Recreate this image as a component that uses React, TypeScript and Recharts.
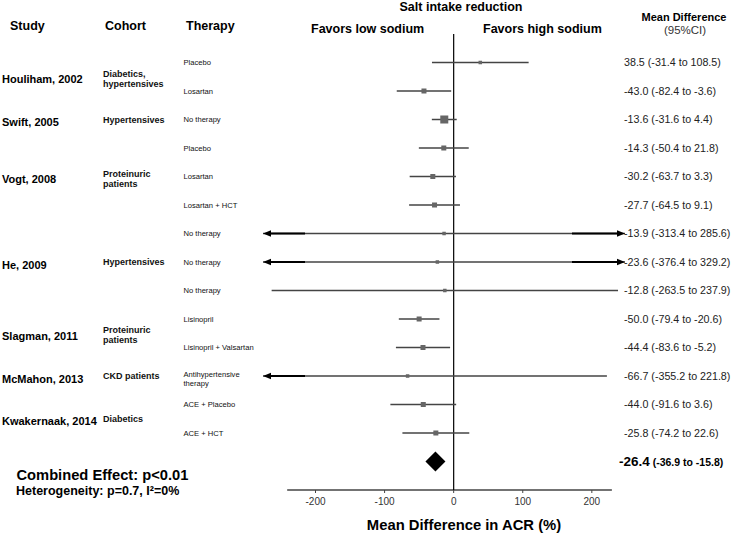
import { ScatterChart, Scatter, XAxis, YAxis, ReferenceLine, Customized } from "recharts";

const FONT = "'Liberation Sans', Arial, sans-serif";

const studies = ["Houliham, 2002", "Swift, 2005", "Vogt, 2008", "He, 2009", "Slagman, 2011", "McMahon, 2013", "Kwakernaak, 2014"];
const cohorts = [["Diabetics,", "hypertensives"], ["Hypertensives"], ["Proteinuric", "patients"], ["Hypertensives"], ["Proteinuric", "patients"], ["CKD patients"], ["Diabetics"]];
const studyRows = [[1, 2], [3], [4, 5, 6], [7, 8, 9], [10, 11], [12], [13, 14]];

const therapies = [
  ["Placebo"], ["Losartan"], ["No therapy"], ["Placebo"], ["Losartan"], ["Losartan + HCT"],
  ["No therapy"], ["No therapy"], ["No therapy"], ["Lisinopril"], ["Lisinopril + Valsartan"],
  ["Antihypertensive", "therapy"], ["ACE + Placebo"], ["ACE + HCT"],
];
const meanDiff = [38.5, -43.0, -13.6, -14.3, -30.2, -27.7, -13.9, -23.6, -12.8, -50.0, -44.4, -66.7, -44.0, -25.8];
const ciLow = [-31.4, -82.4, -31.6, -50.4, -63.7, -64.5, -313.4, -376.4, -263.5, -79.4, -83.6, -355.2, -91.6, -74.2];
const ciHigh = [108.5, -3.6, 4.4, 21.8, 3.3, 9.1, 285.6, 329.2, 237.9, -20.6, -5.2, 221.8, 3.6, 22.6];
const weights = [1, 2, 4, 2, 2, 2, 1, 1, 1, 2, 2, 1, 2, 2];

const combinedEffect = [-26.4, -36.9, -15.8];
const xTicks = [-200, -100, 0, 100, 200];

const X_MIN = -276;
const X_MAX = 248;
const COMBINED_ROW = therapies.length + 1;

const rowPoints = meanDiff.map((v, i) => ({ x: v, y: i + 1, w: weights[i] }));
const combinedPoint = [{ x: combinedEffect[0], y: COMBINED_ROW }];
const studyPos = studyRows.map((r) => r.reduce((a, b) => a + b, 0) / r.length);

const fmt = (v: number) => v.toFixed(1);

const ciShape = (leftArrow: boolean, rightArrow: boolean) => (p: any) => {
  const { x1, x2, y1 } = p;
  return (
    <g>
      <line x1={x1} x2={x2} y1={y1} y2={y1} stroke="#444" strokeWidth={1.5} />
      {leftArrow && (
        <g>
          <line x1={x1 + 6} x2={x1 + 42} y1={y1} y2={y1} stroke="#000" strokeWidth={2.2} />
          <polygon points={`${x1},${y1} ${x1 + 8},${y1 - 3.2} ${x1 + 8},${y1 + 3.2}`} fill="#000" />
        </g>
      )}
      {rightArrow && (
        <g>
          <line x1={x2 - 53} x2={x2 - 6} y1={y1} y2={y1} stroke="#000" strokeWidth={2.2} />
          <polygon points={`${x2},${y1} ${x2 - 8},${y1 - 3.2} ${x2 - 8},${y1 + 3.2}`} fill="#000" />
        </g>
      )}
    </g>
  );
};

const Square = (p: any) => {
  const s = 2 + 1.5 * p.payload.w;
  return <rect x={p.cx - s / 2} y={p.cy - s / 2} width={s} height={s} fill="#666" />;
};

const Diamond = (p: any) => (
  <polygon
    points={`${p.cx},${p.cy - 10} ${p.cx + 10},${p.cy} ${p.cx},${p.cy + 10} ${p.cx - 10},${p.cy}`}
    fill="#000"
  />
);

const RowTick = (p: any) => {
  const { y, payload } = p;
  const i = payload.value - 1;
  if (payload.value === COMBINED_ROW) {
    return (
      <text x={619} y={y + 4.5} fontFamily={FONT} fontWeight="bold" fill="#000">
        <tspan fontSize={13.5}>{fmt(combinedEffect[0])}</tspan>
        <tspan fontSize={10.5}>{` (${fmt(combinedEffect[1])} to ${fmt(combinedEffect[2])})`}</tspan>
      </text>
    );
  }
  const lines = therapies[i];
  const off = lines.length > 1 ? -2 : 0;
  return (
    <g>
      {lines.map((t, k) => (
        <text key={k} x={183.5} y={y + off + k * 9 + 2.8} fontFamily={FONT} fontSize={7.6} fill="#111">
          {t}
        </text>
      ))}
      <text x={624} y={y + 3.8} fontFamily={FONT} fontSize={10.7} fill="#222">
        {`${fmt(meanDiff[i])} (${fmt(ciLow[i])}  to ${fmt(ciHigh[i])})`}
      </text>
    </g>
  );
};

const StudyTick = (p: any) => {
  const { y, payload } = p;
  const i = studyPos.indexOf(payload.value);
  if (i < 0) return <g />;
  const c = cohorts[i];
  const cy0 = c.length > 1 ? y - 3 : y;
  return (
    <g>
      <text x={2} y={y + 2.5 + 4} fontFamily={FONT} fontSize={11} fontWeight="bold" fill="#000">
        {studies[i]}
      </text>
      {c.map((t, k) => (
        <text key={k} x={103} y={cy0 + k * 10 + 3.2} fontFamily={FONT} fontSize={9} fontWeight="bold" fill="#111">
          {t}
        </text>
      ))}
    </g>
  );
};

const Labels = () => (
  <g fontFamily={FONT} fill="#000">
    <text x={461} y={11} fontSize={12.5} fontWeight="bold" textAnchor="middle">Salt intake reduction</text>
    <text x={311} y={32.8} fontSize={12.5} fontWeight="bold">Favors low sodium</text>
    <text x={483} y={32.8} fontSize={12.5} fontWeight="bold">Favors high sodium</text>
    <text x={10} y={29.5} fontSize={12.5} fontWeight="bold">Study</text>
    <text x={105} y={29.5} fontSize={12.5} fontWeight="bold">Cohort</text>
    <text x={186} y={29.5} fontSize={12.5} fontWeight="bold">Therapy</text>
    <text x={684} y={20.6} fontSize={11} fontWeight="bold" textAnchor="middle">Mean Difference</text>
    <text x={685} y={34} fontSize={11.5} textAnchor="middle" fill="#333">(95%CI)</text>
    <text x={16.5} y={480} fontSize={14.7} fontWeight="bold">Combined Effect: p&lt;0.01</text>
    <text x={16} y={494.5} fontSize={12.5} fontWeight="bold">Heterogeneity: p=0.7, I²=0%</text>
    <text x={464} y={530} fontSize={14.8} fontWeight="bold" textAnchor="middle">Mean Difference in ACR (%)</text>
  </g>
);

export default function App() {
  return (
    <div style={{ position: "absolute", left: 0, top: 0 }}>
      <ScatterChart width={735} height={534} margin={{ top: 34, right: 110, bottom: 0, left: 261 }}>
        <XAxis
          dataKey="x"
          type="number"
          domain={[X_MIN, X_MAX]}
          allowDataOverflow
          ticks={xTicks}
          axisLine={false}
          tickSize={3}
          tickMargin={5}
          tickLine={{ stroke: "#444" }}
          tick={{ fontSize: 10, fill: "#333", fontFamily: FONT }}
          height={44}
        />
        <YAxis
          yAxisId="row"
          dataKey="y"
          type="number"
          domain={[0, 16]}
          reversed
          allowDataOverflow
          ticks={[...therapies.map((_, i) => i + 1), COMBINED_ROW]}
          interval={0}
          width={1}
          axisLine={false}
          tickLine={false}
          tick={RowTick}
        />
        <YAxis
          yAxisId="study"
          type="number"
          domain={[0, 16]}
          reversed
          allowDataOverflow
          ticks={studyPos}
          interval={0}
          width={1}
          axisLine={false}
          tickLine={false}
          tick={StudyTick}
        />
        <ReferenceLine
          yAxisId="row"
          segment={[{ x: -241, y: 16 }, { x: 229, y: 16 }]}
          stroke="#444"
          strokeWidth={1.5}
          ifOverflow="visible"
        />
        <ReferenceLine
          yAxisId="row"
          segment={[{ x: 0, y: 0 }, { x: 0, y: 16 }]}
          stroke="#000"
          strokeWidth={1.2}
          ifOverflow="visible"
        />
        {meanDiff.map((_, i) => (
          <ReferenceLine
            key={i}
            yAxisId="row"
            segment={[
              { x: Math.max(ciLow[i], X_MIN), y: i + 1 },
              { x: Math.min(ciHigh[i], X_MAX), y: i + 1 },
            ]}
            ifOverflow="visible"
            shape={ciShape(ciLow[i] < X_MIN, ciHigh[i] > X_MAX)}
          />
        ))}
        <Scatter yAxisId="row" data={rowPoints} shape={Square} isAnimationActive={false} />
        <Scatter yAxisId="row" data={combinedPoint} shape={Diamond} isAnimationActive={false} />
        <Customized component={<Labels />} />
      </ScatterChart>
    </div>
  );
}
